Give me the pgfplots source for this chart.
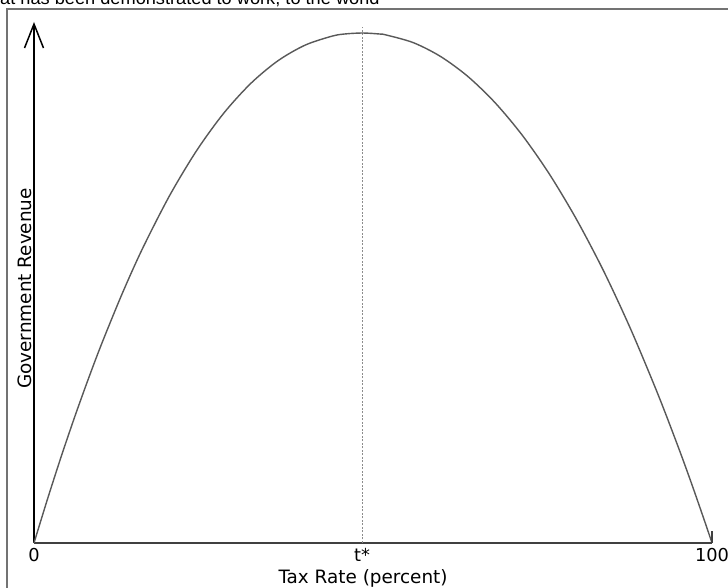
\documentclass[border=0pt]{standalone}
\usepackage{fontspec}
\setmainfont{DejaVu Sans}
\newfontfamily\arialfont{Liberation Sans}
\usepackage{pgfplots}
\pgfplotsset{compat=1.18}
\usetikzlibrary{arrows.meta}
\begin{document}
\begin{tikzpicture}
\useasboundingbox (0,0) rectangle (728pt,588pt);
\clip (0,0) rectangle (728pt,588pt);
\fill[white] (0,0) rectangle (728pt,588pt);
\node[anchor=base west, inner sep=0pt, font=\arialfont\fontsize{18.2}{21}\selectfont] at (0pt,583pt) {at has been demonstrated to work, to the world};
\draw[color=black!55, line width=1.3pt] (7pt,-2pt) -- (7pt,579pt) -- (730pt,579pt);
\begin{axis}[
 at={(34pt,45pt)}, anchor=south west, scale only axis,
 width=678pt, height=521pt,
 xmin=0, xmax=100, ymin=0, ymax=102.16,
 axis lines=left,
 x axis line style={-, line width=2.2pt, color=black!75},
 y axis line style={-{Straight Barb[length=24pt,width=19pt,line width=1.5pt]}, line width=2pt, color=black},
 ytick=\empty,
 xtick={0,48.4,100}, xticklabels={0,t*,100\hspace{6pt}},
 major tick length=0pt,
 tick label style={font=\fontsize{17.8}{21}\selectfont},
 xticklabel style={anchor=north, inner sep=0pt, yshift=-5pt, text height=13pt, text depth=0pt},
 xlabel={Tax Rate (percent)}, ylabel={Government Revenue},
 label style={font=\fontsize{18.4}{21}\selectfont},
 xlabel style={at={(rel axis cs:0.4853,0)}, anchor=north, inner sep=0pt, yshift=-26pt},
 ylabel style={at={(rel axis cs:0,0.4885)}, anchor=south, inner sep=0pt, yshift=2pt},
 clip=false,
]
\addplot[dash pattern=on 2pt off 1.5pt, color=black!45, line width=0.8pt] coordinates {(48.4,0) (48.4,101.2)};
\addplot[smooth, color=black!65, line width=1.4pt] coordinates {
(0,0) (2,8.65) (4,16.90) (6,24.72) (8,32.12) (10,39.13) (13,48.87) (16,57.72)
(20,68.12) (24,76.97) (28,84.30) (32,90.15) (36,94.58) (40,97.63) (44,99.40) (46,99.83) (48.5,100)
(51,99.80) (52,99.60) (56,98.08) (60,95.37) (64,91.47) (68,86.34) (72,79.98) (76,72.37) (80,63.49)
(84,53.37) (88,41.95) (92,29.25) (95,18.89) (97,11.59) (99,3.94) (100,0)};
\addplot[line width=1.3pt, color=black!75] coordinates {(100,0) (100,2.35)};
\end{axis}
\end{tikzpicture}
\end{document}
